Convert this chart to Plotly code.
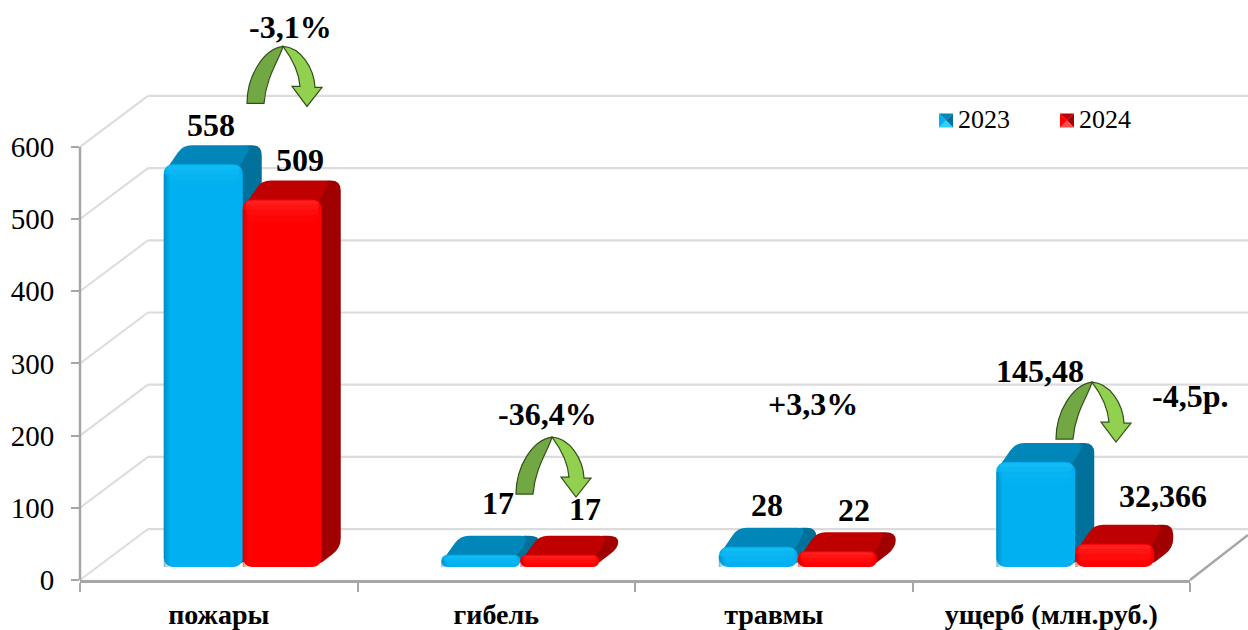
import plotly.graph_objects as go

categories = ["пожары", "гибель", "травмы", "ущерб (млн.руб.)"]
series_names = ["2023", "2024"]
values_2023 = [558, 17, 28, 145.48]
values_2024 = [509, 17, 22, 32.366]
y_ticks = [0, 100, 200, 300, 400, 500, 600]
changes = ["-3,1%", "-36,4%", "+3,3%", "-4,5р."]

W, H = 1248, 630
L, R, AX_Y = 80, 1190, 580
Y_MAX = 640
PX_PER_UNIT = 0.7225
TOP = AX_Y - Y_MAX * PX_PER_UNIT
CAT_PX = (R - L) / 4
SERIF = "Liberation Serif"
DEPTH_PX = 19
BASE_UNITS = 13 / PX_PER_UNIT
BAR_W = 79 / CAT_PX
OFFSETS = [-55 / CAT_PX, 24 / CAT_PX]
DX, DY = DEPTH_PX / CAT_PX, DEPTH_PX / PX_PER_UNIT

COLORS = [
    dict(front="#00B0F0", top="#0086B8", side="#00719B", edge="#006A96", light="#2AD0FF"),
    dict(front="#FF0000", top="#BE0000", side="#A00000", edge="#A80000", light="#FF4A4A"),
]


def px(x, y):
    return (x - L) / (R - L), (AX_Y - y) / (AX_Y - TOP)


def rounded(points, r):
    """Closed path through data-space points with corners rounded by r pixels."""
    pts = [(x * CAT_PX, y * PX_PER_UNIT) for x, y in points]
    n = len(pts)
    out = []
    for i in range(n):
        p, a, b = pts[i], pts[i - 1], pts[(i + 1) % n]
        def toward(q):
            d = ((q[0] - p[0]) ** 2 + (q[1] - p[1]) ** 2) ** 0.5 or 1
            t = min(r / d, 0.5)
            return p[0] + (q[0] - p[0]) * t, p[1] + (q[1] - p[1]) * t
        s, e = toward(a), toward(b)
        f = lambda c: f"{c[0] / CAT_PX:.5f},{c[1] / PX_PER_UNIT:.4f}"
        out.append(("M" if i == 0 else "L") + f(s) + " Q" + f(p) + " " + f(e))
    return " ".join(out) + " Z"


shapes = []
GRID = "#DCDCDC"
AXIS = "#A6A6A6"
WALL_DX, WALL_DY = 68, 51


def line(x0, y0, x1, y1, color, width):
    a, b = px(x0, y0), px(x1, y1)
    shapes.append(dict(type="line", xref="paper", yref="paper", x0=a[0], y0=a[1], x1=b[0], y1=b[1],
                       line=dict(color=color, width=width), layer="below"))


for v in y_ticks:
    y = AX_Y - v * PX_PER_UNIT
    line(L, y, L + WALL_DX, y - WALL_DY, GRID, 2)
    line(L + WALL_DX, y - WALL_DY, W, y - WALL_DY, GRID, 2.2)
line(L, AX_Y - 600 * PX_PER_UNIT, L, AX_Y, AXIS, 2.5)
line(R, AX_Y, W, AX_Y - 45, AXIS, 2.5)

# 3D faces of the bars, derived from the values
for s, vals in enumerate([values_2023, values_2024]):
    c = COLORS[s]
    for i, v in enumerate(vals):
        x0 = i + OFFSETS[s]
        x1 = x0 + BAR_W
        b = BASE_UNITS
        t = BASE_UNITS + v
        r_u = min(9 / PX_PER_UNIT, v * 0.6)
        shapes.append(dict(type="path", xref="x", yref="y", layer="below", line_width=0, fillcolor=c["side"],
                           path=rounded([(x1 - 6 / CAT_PX, b), (x1 + DX, b + DY), (x1 + DX, t + DY),
                                         (x1 - 6 / CAT_PX, t + DY), (x1 - 6 / CAT_PX, t)], 10)))
        shapes.append(dict(type="path", xref="x", yref="y", layer="below", line_width=0, fillcolor=c["top"],
                           path=rounded([(x0, t - r_u), (x0 + DX, t + DY), (x1 + DX - 10 / CAT_PX, t + DY),
                                         (x1 - 4 / CAT_PX, t - r_u / 2), (x0 + 8 / CAT_PX, t - r_u / 2)], 9)))

# soft shading painted over the front faces
for s, vals in enumerate([values_2023, values_2024]):
    c = COLORS[s]
    for i, v in enumerate(vals):
        x0 = i + OFFSETS[s]
        x1 = x0 + BAR_W
        t = BASE_UNITS + v
        inset = 10 / PX_PER_UNIT if v > 60 else 0.45 * v
        for k, op in enumerate([0.45, 0.3, 0.18, 0.08]):
            shapes.append(dict(type="rect", xref="x", yref="y", layer="above", line_width=0, fillcolor=c["edge"],
                               opacity=op, x0=x0 + k * 1.5 / CAT_PX, x1=x0 + (k + 1) * 1.5 / CAT_PX,
                               y0=BASE_UNITS, y1=t - inset))
        # brighter rim that fades down from the top edge
        for frac, op in [(0.5, 0.2), (1.0, 0.16), (1.6, 0.1), (2.2, 0.06)]:
            shapes.append(dict(type="path", xref="x", yref="y", layer="above", line_width=0, fillcolor=c["light"],
                               opacity=op,
                               path=rounded([(x0 + 3 / CAT_PX, t - min(inset * frac, v * 0.8)),
                                             (x0 + 3 / CAT_PX, t - 1 / PX_PER_UNIT),
                                             (x1 - 3 / CAT_PX, t - 1 / PX_PER_UNIT),
                                             (x1 - 3 / CAT_PX, t - min(inset * frac, v * 0.8))], 6)))

# curved green arrows, placed by their apex in pixels
LEFT = [(-36, 57), "C", (-36, 30), (-20, 3), (0, 0), "C", (-3, 12), (-17, 30), (-19, 57)]
RIGHT = [(0, 0), "C", (18, 1), (31, 22), (32, 41), "L", (39, 41), "L", (24, 60), "L", (9, 40), "L", (17, 40),
         "C", (16, 26), (9, 12), (0, 0)]


def arrow_path(tokens, ax, ay):
    out, first = [], True
    for tok in tokens:
        if isinstance(tok, str):
            out.append(tok)
        else:
            p = px(ax + tok[0], ay + tok[1])
            if first:
                out.append("M")
                first = False
            out.append(f"{p[0]:.5f},{p[1]:.5f}")
    return " ".join(out) + " Z"


for ax, ay in [(283, 46), (552, 437), (1092, 382)]:
    shapes.append(dict(type="path", xref="paper", yref="paper", layer="above", path=arrow_path(LEFT, ax, ay),
                       fillcolor="#72A843", line=dict(color="#33501C", width=1.2)))
    shapes.append(dict(type="path", xref="paper", yref="paper", layer="above", path=arrow_path(RIGHT, ax, ay),
                       fillcolor="#92D050", line=dict(color="#33501C", width=1.2)))

# faceted legend keys
for s, (kx, ky) in enumerate([(939, 113), (1060, 113)]):
    c = COLORS[s]
    S = 14
    corners = [(kx, ky), (kx + S, ky), (kx + S, ky + S), (kx, ky + S)]
    mid = (kx + S / 2, ky + S / 2)
    for j, col in enumerate([c["top"], c["side"], c["light"], c["front"]]):
        tri = [corners[j], corners[(j + 1) % 4], mid]
        pts = [px(*q) for q in tri]
        shapes.append(dict(type="path", xref="paper", yref="paper", layer="above", line_width=0, fillcolor=col,
                           path="M" + " L".join(f"{a:.5f},{b:.5f}" for a, b in pts) + " Z"))

annotations = []


def note(text, x, y, size, bold=True):
    a, b = px(x, y)
    annotations.append(dict(text=f"<b>{text}</b>" if bold else text, x=a, y=b, xref="paper", yref="paper",
                            showarrow=False, xanchor="center", yanchor="middle",
                            font=dict(family=SERIF, size=size, color="#000000")))


fmt = lambda v: str(v).replace(".", ",")
for v, (x, y) in zip(values_2023, [(211, 125), (498, 503), (767, 505), (1040, 371)]):
    note(fmt(v), x, y, 32)
for v, (x, y) in zip(values_2024, [(300, 160), (585, 509), (854, 510), (1163, 496)]):
    note(fmt(v), x, y, 32)
for t, (x, y) in zip(changes, [(290, 27), (547, 414), (813, 404), (1190, 396)]):
    note(t, x, y, 32)
note(series_names[0], 984, 119, 26, bold=False)
note(series_names[1], 1105, 119, 26, bold=False)

fig = go.Figure()
for s, vals in enumerate([values_2023, values_2024]):
    fig.add_trace(go.Bar(
        x=list(range(len(categories))), y=vals, base=[BASE_UNITS] * len(vals), name=series_names[s],
        width=BAR_W, offset=OFFSETS[s], marker=dict(color=COLORS[s]["front"], cornerradius=9, line_width=0),
        showlegend=False, cliponaxis=False,
    ))

fig.update_layout(
    width=W, height=H, showlegend=False, barmode="overlay",
    margin=dict(l=L, r=W - R, t=TOP, b=H - AX_Y, pad=0, autoexpand=False),
    paper_bgcolor="#FFFFFF", plot_bgcolor="rgba(0,0,0,0)",
    shapes=shapes, annotations=annotations,
    xaxis=dict(type="linear", automargin=False, range=[-0.5, 3.5], tickvals=list(range(len(categories))),
               ticktext=[f"<b>{c}</b>" for c in categories],
               ticks="", showgrid=False, zeroline=False, showline=True, linecolor=AXIS, linewidth=2.5,
               tickfont=dict(family=SERIF, size=28, color="#000000"), ticklabelstandoff=8,
               minor=dict(tickvals=[-0.5, 0.5, 1.5, 2.5, 3.5], ticks="outside", ticklen=9, tickwidth=2,
                          tickcolor=AXIS, showgrid=False)),
    yaxis=dict(range=[0, Y_MAX], automargin=False, tickvals=y_ticks, ticks="outside", ticklen=8, tickwidth=2,
               tickcolor=AXIS, showgrid=False, zeroline=False, showline=False, ticklabelstandoff=11,
               tickfont=dict(family=SERIF, size=29, color="#000000")),
)

fig.write_html("out.html", config=dict(displayModeBar=False),
               post_script="document.body.style.margin='0';document.documentElement.style.overflow='hidden';")
